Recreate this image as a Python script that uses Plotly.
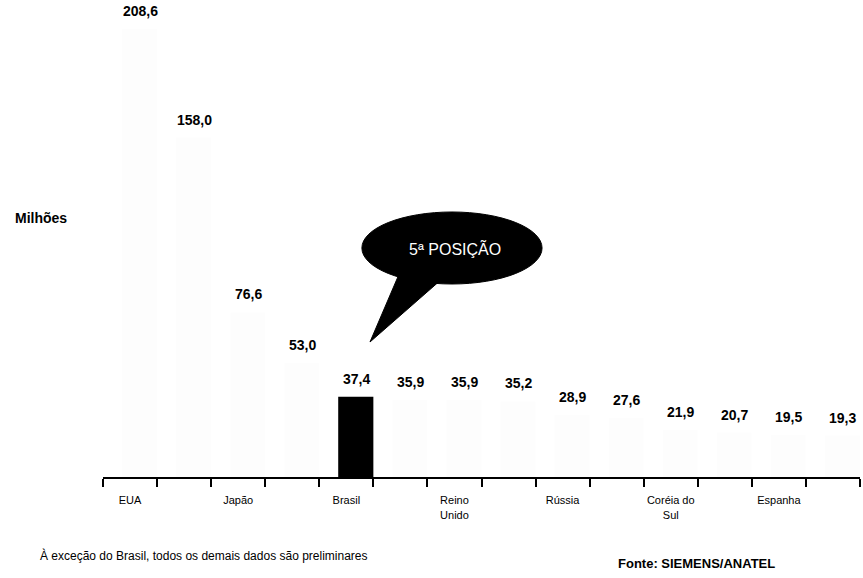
import plotly.graph_objects as go

# Data
countries = ["EUA", "China", "Japão", "Alemanha", "Brasil", "França", "Reino Unido",
             "Índia", "Rússia", "Itália", "Coréia do Sul", "Canadá", "Espanha", "Turquia"]
values = [208.6, 158.0, 76.6, 53.0, 37.4, 35.9, 35.9, 35.2, 28.9, 27.6, 21.9, 20.7, 19.5, 19.3]
value_labels = ["208,6", "158,0", "76,6", "53,0", "37,4", "35,9", "35,9", "35,2",
                "28,9", "27,6", "21,9", "20,7", "19,5", "19,3"]
# axis labels (only every other category is labelled in the original)
tick_text = ["EUA", "", "Japão", "", "Brasil", "", "Reino<br>Unido",
             "", "Rússia", "", "Coréia do<br>Sul", "", "Espanha", ""]
highlight = "Brasil"

colors = ["#000000" if c == highlight else "rgba(0,0,0,0.008)" for c in countries]

FONT = "Liberation Sans, Arial, sans-serif"

fig = go.Figure()
fig.add_trace(go.Bar(
    x=countries, y=values,
    marker=dict(color=colors, line=dict(width=0)),
    width=0.65, offset=-0.15,
    hoverinfo="skip",
))

# value labels above each bar
for c, v, t in zip(countries, values, value_labels):
    fig.add_annotation(x=c, y=v, text="<b>%s</b>" % t, showarrow=False,
                       yanchor="bottom", yshift=8, xshift=10,
                       font=dict(family=FONT, size=14, color="#000"))

fig.update_layout(
    width=863, height=578,
    margin=dict(l=103, r=3, t=0, b=101),
    paper_bgcolor="white", plot_bgcolor="white",
    showlegend=False,
    font=dict(family=FONT, color="#000000"),
    xaxis=dict(
        type="category",
        tickmode="array", tickvals=countries, ticktext=tick_text,
        tickangle=0, ticklabelstandoff=12,
        tickson="boundaries", ticks="outside", ticklen=8, tickwidth=1.5, tickcolor="#000",
        showline=True, linecolor="#000", linewidth=2,
        showgrid=False, zeroline=False,
        tickfont=dict(family=FONT, size=11, color="#000"),
        range=[-0.5, 13.5],
    ),
    yaxis=dict(visible=False, range=[0, 222], showgrid=False, zeroline=False),
)

# Speech bubble callout
fig.add_shape(type="path", xref="paper", yref="paper",
              path="M 0.3923,0.4298 L 0.3527,0.2830 L 0.4478,0.4151 Z",
              fillcolor="#000", line=dict(color="#000", width=1))
fig.add_shape(type="circle", xref="paper", yref="paper",
              x0=0.342, x1=0.580, y0=0.4046, y1=0.5556,
              fillcolor="#000", line=dict(color="#000", width=1))
fig.add_annotation(xref="paper", yref="paper", x=0.4655, y=0.478,
                   text="5ª POSIÇÃO", showarrow=False,
                   font=dict(family=FONT, size=16, color="white"))

fig.add_annotation(xref="paper", yref="paper", x=-0.119, y=0.543, xanchor="left",
                   text="<b>Milhões</b>", showarrow=False,
                   font=dict(family=FONT, size=14, color="#000"))
fig.add_annotation(xref="paper", yref="paper", x=-0.086, y=-0.185, xanchor="left",
                   text="À exceção do Brasil, todos os demais dados são preliminares",
                   showarrow=False,
                   font=dict(family=FONT, size=12, color="#000"))
fig.add_annotation(xref="paper", yref="paper", x=0.678, y=-0.202, xanchor="left",
                   text="<b>Fonte: SIEMENS/ANATEL</b>", showarrow=False,
                   font=dict(family=FONT, size=13, color="#000"))

fig.write_html("out.html")
